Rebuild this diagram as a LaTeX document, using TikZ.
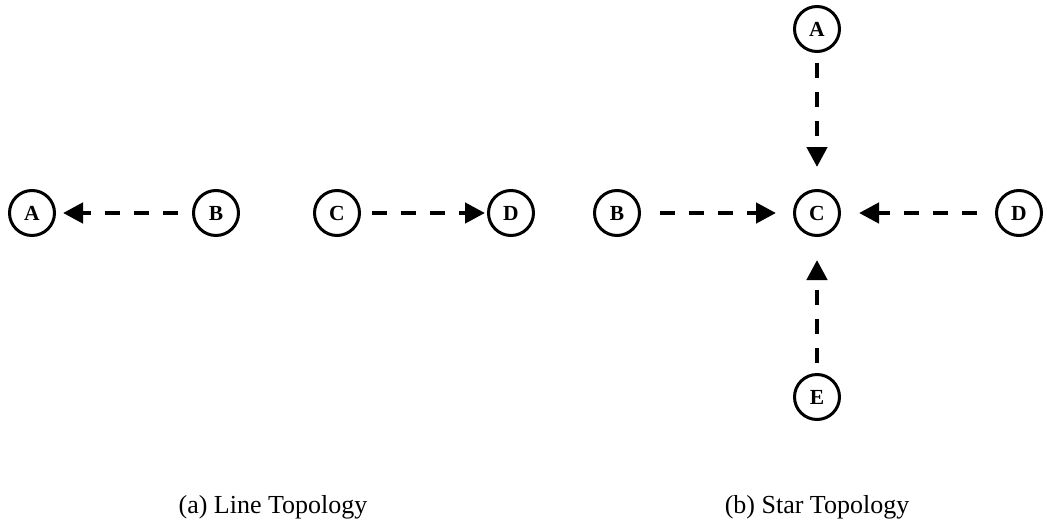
\documentclass[tikz,border=0pt]{standalone}
\usepackage{fontspec}
\setmainfont{Liberation Serif}
\usetikzlibrary{arrows.meta}
\begin{document}
\begin{tikzpicture}[x=1pt,y=-1pt,
  nd/.style={circle,draw,line width=3pt,minimum size=45pt,inner sep=0pt,font=\fontsize{21.5}{21.5}\selectfont\bfseries},
  arr/.style={line width=4.5pt,dash pattern=on 15pt off 14pt,-{Triangle[length=20pt,width=20pt]}},
  captext/.style={font=\fontsize{26}{27}\selectfont,anchor=base,inner sep=0pt}]
\useasboundingbox (0,0) rectangle (1047,525);
% line topology
\node[nd] (la) at (32,213) {A};
\node[nd] (lb) at (216,213) {B};
\node[nd] (lc) at (337,213) {C};
\node[nd] (ld) at (511,213) {D};
\draw[arr,shorten <=14pt,shorten >=7pt] (lb) -- (la);
\draw[arr,shorten <=11pt,shorten >=2pt] (lc) -- (ld);
% star topology
\node[nd] (sa) at (817,29) {A};
\node[nd] (sb) at (617,213) {B};
\node[nd] (sc) at (817,213) {C};
\node[nd] (sd) at (1019,213) {D};
\node[nd] (se) at (817,397) {E};
\draw[arr,shorten <=10pt,shorten >=22pt] (sa) -- (sc);
\draw[arr,shorten <=19pt,shorten >=17pt] (sb) -- (sc);
\draw[arr,shorten <=18pt,shorten >=18pt] (sd) -- (sc);
\draw[arr,shorten <=10pt,shorten >=23pt] (se) -- (sc);
% captions
\node[captext] (capa) at (273,513) {(a) Line Topology};
\node[captext] (capb) at (817,513) {(b) Star Topology};
\end{tikzpicture}
\end{document}
